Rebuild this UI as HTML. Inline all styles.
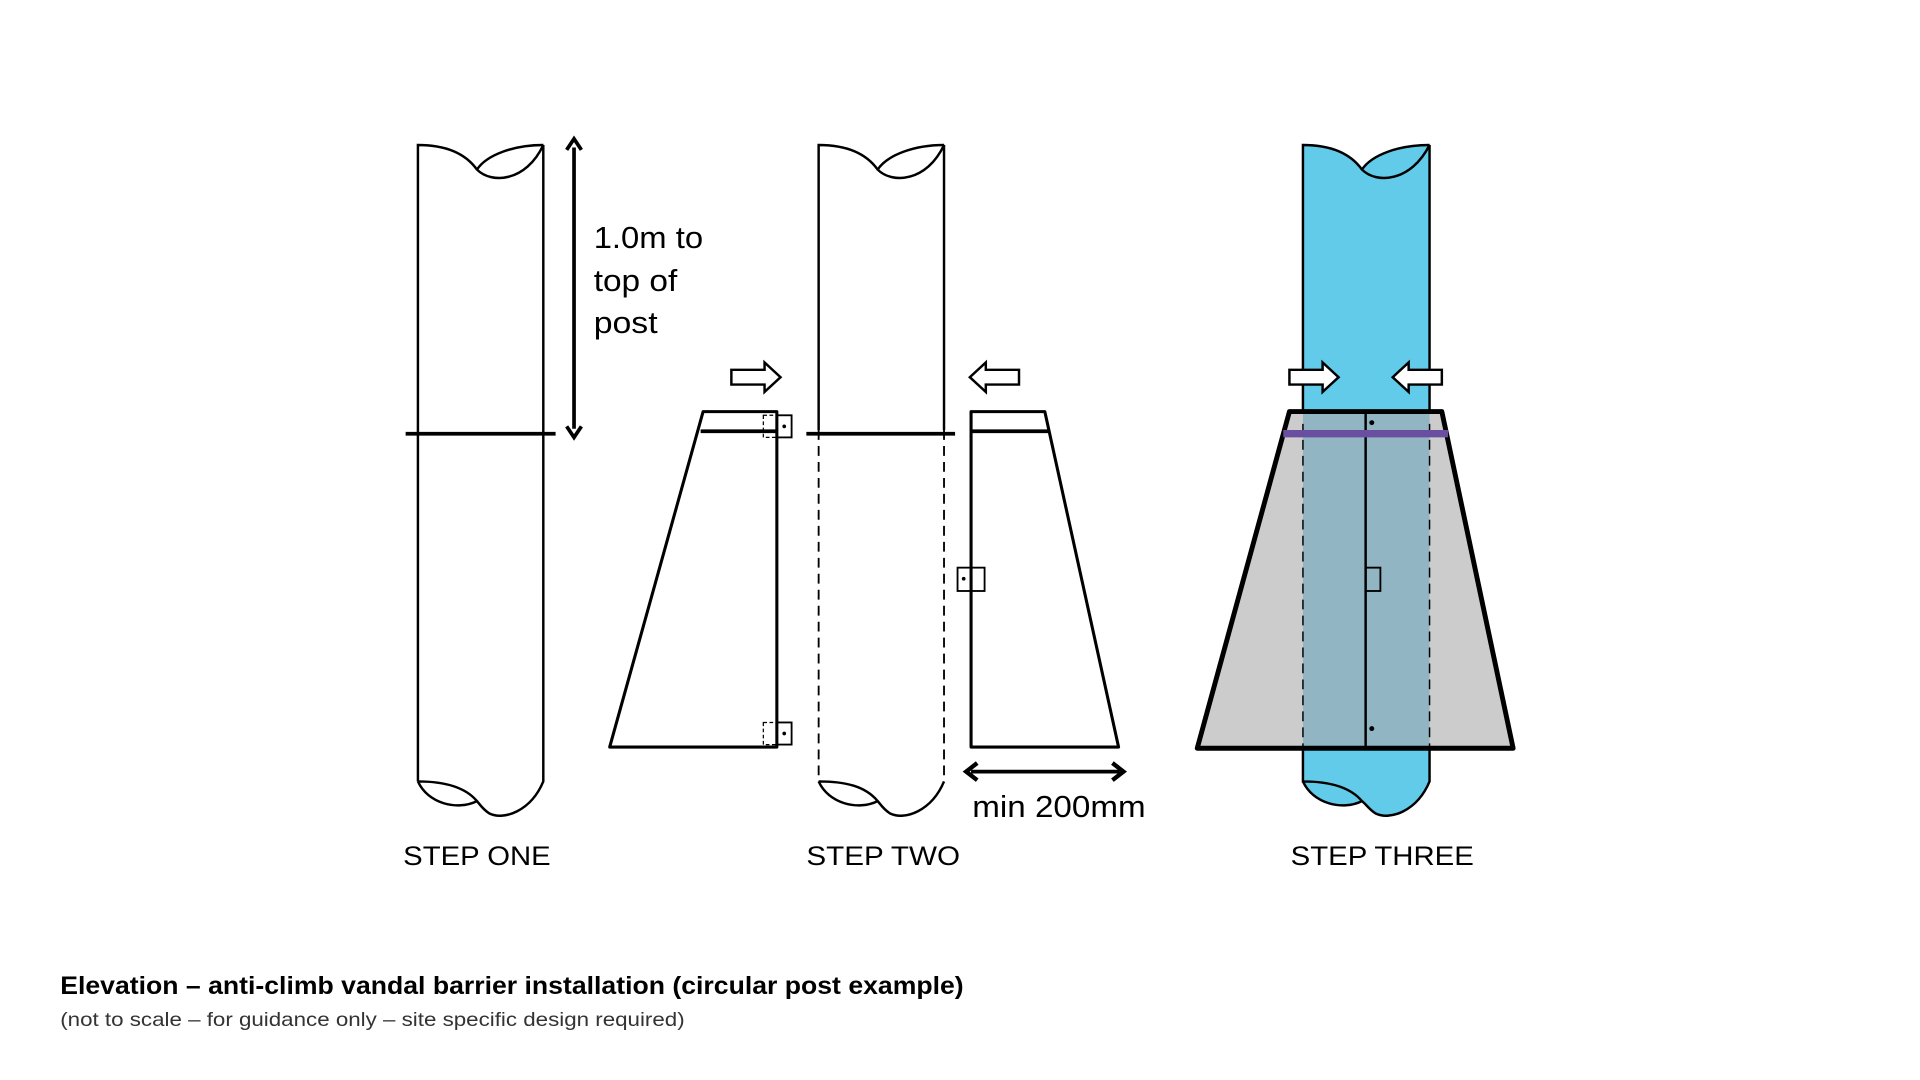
<!DOCTYPE html>
<html><head><meta charset="utf-8"><style>
html,body{margin:0;padding:0;background:#fff;}
svg{display:block;}
text{font-family:"Liberation Sans",Arial,sans-serif;}
</style></head><body>
<svg width="1920" height="1080" viewBox="0 0 1562 879" preserveAspectRatio="none" xmlns="http://www.w3.org/2000/svg">
<defs>
<g id="arrR"><path d="M0,-6 H27 V-12 L40,0 L27,12 V6 H0 Z" fill="#fff" stroke="#000" stroke-width="2"/></g>
</defs>

<!-- STEP ONE post -->
<g fill="none" stroke="#000" stroke-width="2">
<path d="M340,636 V118 C362,118 378,124 388,138 C400,150 428,148 442,118 V636 C432,660 410,668 398,662 C392,658 390,654 388,652"/>
<path d="M388,138 C396,126 418,118 442,118"/>
<path d="M340,636 C360,636 378,640 388,652 C372,660 348,654 340,636"/>
</g>
<line x1="330" y1="353" x2="452" y2="353" stroke="#000" stroke-width="3"/>
<line x1="467" y1="120" x2="467" y2="349" stroke="#000" stroke-width="3"/>
<path d="M461,122 L467,113 L473,122 M461,347 L467,356 L473,347" fill="none" stroke="#000" stroke-width="3"/>
<text x="483" y="202" font-size="25" textLength="89" lengthAdjust="spacingAndGlyphs">1.0m to</text>
<text x="483" y="237" font-size="25" textLength="68" lengthAdjust="spacingAndGlyphs">top of</text>
<text x="483" y="271" font-size="25" textLength="52" lengthAdjust="spacingAndGlyphs">post</text>
<text x="328" y="704" font-size="22" textLength="120" lengthAdjust="spacingAndGlyphs">STEP ONE</text>

<!-- STEP TWO -->
<use href="#arrR" x="595" y="307"/>
<use href="#arrR" transform="translate(829,307) scale(-1,1)"/>
<g fill="none" stroke="#000" stroke-width="2">
<path d="M666,350 V118 C688,118 704,124 714,138 C726,150 754,148 768,118 V350"/>
<path d="M714,138 C722,126 744,118 768,118"/>
<path d="M666,350 V636 M768,350 V636" stroke-dasharray="8,5" stroke-width="1.5"/>
<path d="M666,636 C688,636 704,640 714,652 C698,660 674,654 666,636"/>
<path d="M768,636 C758,660 736,668 724,662 C718,658 716,654 714,652"/>
</g>
<line x1="656" y1="353" x2="777" y2="353" stroke="#000" stroke-width="3"/>
<path d="M572,335 H632 V608 H496 Z" fill="none" stroke="#000" stroke-width="2.5" stroke-linejoin="round"/>
<line x1="570" y1="351" x2="632" y2="351" stroke="#000" stroke-width="3"/>
<rect x="632" y="338" width="12" height="18" fill="none" stroke="#000" stroke-width="1.5"/>
<rect x="621" y="338" width="11" height="18" fill="none" stroke="#000" stroke-width="1" stroke-dasharray="3,2"/>
<circle cx="638" cy="347" r="1.5"/>
<rect x="632" y="588" width="12" height="18" fill="none" stroke="#000" stroke-width="1.5"/>
<rect x="621" y="588" width="11" height="18" fill="none" stroke="#000" stroke-width="1" stroke-dasharray="3,2"/>
<circle cx="638" cy="597" r="1.5"/>
<path d="M790,335 H850 L910,608 H790 Z" fill="none" stroke="#000" stroke-width="2.5" stroke-linejoin="round"/>
<line x1="790" y1="351" x2="853" y2="351" stroke="#000" stroke-width="3"/>
<rect x="779" y="462" width="22" height="19" fill="none" stroke="#000" stroke-width="1.5"/>
<circle cx="784" cy="471" r="1.5"/>
<line x1="790" y1="628" x2="911" y2="628" stroke="#000" stroke-width="3"/>
<path d="M795,621 L786,628 L795,635 M905,621 L914,628 L905,635" fill="none" stroke="#000" stroke-width="3.5"/>
<text x="791" y="665" font-size="25" textLength="141" lengthAdjust="spacingAndGlyphs">min 200mm</text>
<text x="656" y="704" font-size="22" textLength="125" lengthAdjust="spacingAndGlyphs">STEP TWO</text>

<!-- STEP THREE -->
<path d="M1060,636 V118 C1082,118 1098,124 1108,138 C1116,126 1138,118 1163,118 V636 C1153,660 1131,668 1119,662 C1113,658 1111,654 1108,652 C1098,660 1070,656 1060,636 Z" fill="#62cbea"/>
<g fill="none" stroke="#000" stroke-width="2">
<path d="M1060,336 V118 C1082,118 1098,124 1108,138 C1120,150 1148,148 1163,118 V336"/>
<path d="M1108,138 C1116,126 1138,118 1163,118"/>
<path d="M1060,608 V636 C1080,636 1098,640 1108,652 C1092,660 1068,654 1060,636 M1163,608 V636 C1153,660 1131,668 1119,662 C1113,658 1111,654 1108,652"/>
</g>
<path d="M1049,335 H1173 L1231,609 H974 Z" fill="#cccccc"/>
<rect x="1060" y="335" width="103" height="274" fill="#91b5c3"/>
<path d="M1049,335 H1173 L1231,609 H974 Z" fill="none" stroke="#000" stroke-width="4" stroke-linejoin="round"/>
<line x1="1111" y1="335" x2="1111" y2="609" stroke="#000" stroke-width="2"/>
<line x1="1060" y1="345" x2="1060" y2="609" stroke="#000" stroke-width="1.2" stroke-dasharray="8,5"/>
<line x1="1163" y1="345" x2="1163" y2="609" stroke="#000" stroke-width="1.2" stroke-dasharray="8,5"/>
<line x1="1044" y1="353" x2="1178" y2="353" stroke="#6a4fa0" stroke-width="6"/>
<circle cx="1116" cy="344" r="2"/>
<circle cx="1116" cy="593" r="2"/>
<rect x="1111" y="462" width="12" height="19" fill="none" stroke="#000" stroke-width="1.5"/>
<use href="#arrR" x="1049" y="307"/>
<use href="#arrR" transform="translate(1173,307) scale(-1,1)"/>
<text x="1050" y="704" font-size="22" textLength="149" lengthAdjust="spacingAndGlyphs">STEP THREE</text>

<text x="49" y="809" font-size="20.5" font-weight="bold" textLength="735" lengthAdjust="spacingAndGlyphs">Elevation – anti-climb vandal barrier installation (circular post example)</text>
<text x="49" y="835" font-size="16" fill="#333" textLength="508" lengthAdjust="spacingAndGlyphs">(not to scale – for guidance only – site specific design required)</text>
</svg>
</body></html>
